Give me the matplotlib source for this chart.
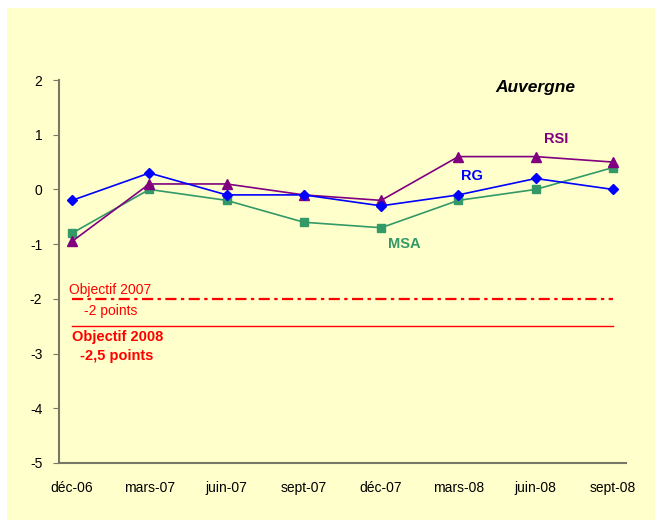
import matplotlib
matplotlib.use('Agg')
import matplotlib.pyplot as plt
from matplotlib.patches import Rectangle

plt.rcParams['font.family'] = ['Liberation Sans', 'DejaVu Sans']
plt.rcParams['axes.unicode_minus'] = False

months = ['déc-06', 'mars-07', 'juin-07', 'sept-07', 'déc-07', 'mars-08', 'juin-08', 'sept-08']
rg = [-0.2, 0.3, -0.1, -0.1, -0.3, -0.1, 0.2, 0.0]
rsi = [-0.95, 0.1, 0.1, -0.1, -0.2, 0.6, 0.6, 0.5]
msa = [-0.8, 0.0, -0.2, -0.6, -0.7, -0.2, 0.0, 0.4]
obj2007 = -2
obj2008 = -2.5

bg = '#FFFFCC'
fig = plt.figure(figsize=(6.55, 5.2), dpi=100, facecolor='white')
fig.patches.append(Rectangle((7/655, 0), 1, 1 - 8/520, transform=fig.transFigure,
                             facecolor=bg, edgecolor='none', zorder=-10))
ax = fig.add_axes([59/655, 1 - 463/520, (626-59)/655, (463-80)/520])
ax.set_facecolor(bg)

x = list(range(len(months)))
ax.plot(x, msa, color='#339966', marker='s', markersize=6, lw=1.2, zorder=3)
ax.plot(x, rsi, color='#800080', marker='^', markersize=7, lw=1.2, zorder=4)
ax.plot(x, rg, color='#0000FF', marker='D', markersize=5.5, lw=1.2, zorder=5)

ax.plot([0, 7], [obj2007, obj2007], color='#FF0000', lw=1.6, dashes=(5, 2, 1.5, 2))
ax.plot([0, 7], [obj2008, obj2008], color='#FF0000', lw=1.0)

ax.set_xlim(-13/77, 7 + 13/77)
ax.set_ylim(-5, 2)
ax.set_yticks(range(-5, 3))
ax.set_xticks(x)
ax.set_xticklabels(months)
ax.tick_params(axis='x', length=0, pad=13, labelsize=10)
ax.tick_params(axis='y', length=4, direction='out', color='#777766', labelsize=10, pad=8)
for s in ['top', 'right']:
    ax.spines[s].set_visible(False)
for s in ['left', 'bottom']:
    ax.spines[s].set_color('#777766')
    ax.spines[s].set_linewidth(1.5)

ax.text(6.0, 2.0 - (73-80)/(-54.7), 'Auvergne', fontsize=12.5, fontweight='bold', fontstyle='italic',
        ha='center', va='center')
ax.text(6.27, 0.93, 'RSI', color='#800080', fontsize=10.5, fontweight='bold', ha='center', va='center')
ax.text(5.17, 0.25, 'RG', color='#0000FF', fontsize=10.5, fontweight='bold', ha='center', va='center')
ax.text(4.3, -1.0, 'MSA', color='#339966', fontsize=10.5, fontweight='bold', ha='center', va='center')

ax.text(-0.04, -1.84, 'Objectif 2007', color='#FF0000', fontsize=10, ha='left', va='center')
ax.text(0.15, -2.22, '-2 points', color='#FF0000', fontsize=10, ha='left', va='center')
ax.text(0.0, -2.7, 'Objectif 2008', color='#FF0000', fontsize=10.5, fontweight='bold', ha='left', va='center')
ax.text(0.1, -3.05, '-2,5 points', color='#FF0000', fontsize=10.5, fontweight='bold', ha='left', va='center')

fig.savefig('out.png', dpi=100, facecolor=fig.get_facecolor())
